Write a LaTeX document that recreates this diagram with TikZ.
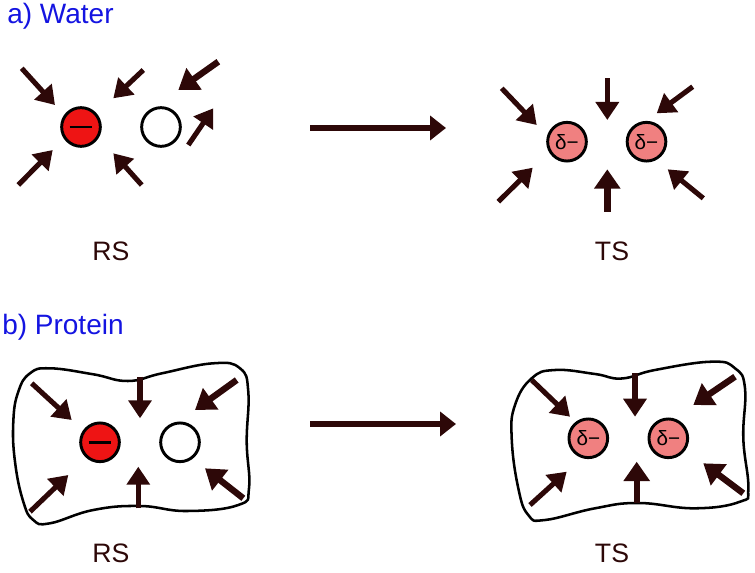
\documentclass[tikz,border=0pt]{standalone}
\usepackage{fontspec}
\setmainfont{Liberation Sans}
\usetikzlibrary{arrows.meta}
\definecolor{arr}{RGB}{45,8,8}
\definecolor{lblblue}{RGB}{20,20,225}
\definecolor{ionred}{RGB}{238,20,20}
\definecolor{pinkion}{RGB}{240,128,128}
\tikzset{
  sarrow/.style={draw=arr, line width=3.8pt, -{Triangle[length=13.5pt,width=17pt]}},
  tarrow/.style={draw=arr, line width=4.8pt, -{Triangle[length=14.5pt,width=19pt]}},
  marrow/.style={draw=arr, line width=3.8pt, -{Triangle[length=12pt,width=18pt]}},
  ion/.style={circle, draw=black, line width=2.2pt, minimum size=29pt, inner sep=0pt},
  negion/.style={ion, fill=ionred},
  emptyion/.style={ion, fill=white},
  deltaion/.style={ion, fill=pinkion, font=\fontsize{15.5pt}{16pt}\selectfont},
  blob/.style={draw=black, line width=1.9pt},
  statelbl/.style={text=arr, font=\fontsize{20pt}{22pt}\selectfont, inner sep=0pt},
  panellbl/.style={text=lblblue, font=\fontsize{21pt}{23pt}\selectfont, inner sep=0pt, anchor=west},
}
\begin{document}
\begin{tikzpicture}[x=0.75pt,y=-0.75pt]
\useasboundingbox (0,0) rectangle (755,573);
% labels
\node[panellbl] (la) at (7,16) {a) Water};
\node[panellbl] (lb) at (2,327) {b) Protein};
\node[statelbl] (rsa) at (111,251) {RS};
\node[statelbl] (tsa) at (612,251) {TS};
\node[statelbl] (rsb) at (111,553) {RS};
\node[statelbl] (tsb) at (612,553) {TS};

% ===== a) water RS
\node[negion] (a1) at (81,127) {};
\draw[black, line width=2.2pt] ([xshift=-8.5pt]a1.center) -- ([xshift=8.5pt]a1.center);
\node[emptyion] (a2) at (161,127) {};
\draw[sarrow] (21.7,68.3) coordinate (p1) -- (55,105) coordinate (q1);
\draw[sarrow] (143.3,70) coordinate (p2) -- (113.3,98.3) coordinate (q2);
\draw[tarrow] (218.3,61.7) coordinate (p3) -- (178.3,90) coordinate (q3);
\draw[sarrow] (188.3,145) coordinate (p4) -- (213.3,108.3) coordinate (q4);
\draw[sarrow] (18.3,185) coordinate (p5) -- (52.7,150) coordinate (q5);
\draw[sarrow] (141.7,185) coordinate (p6) -- (113.3,153.3) coordinate (q6);

% main arrow a
\coordinate (ma1) at (310,128);
\coordinate (ma2) at (446,128);
\draw[marrow] (ma1) -- (ma2);

% ===== a) water TS
\node[deltaion] (a3) at (567,141.7) {δ−};
\node[deltaion] (a4) at (646.5,141.7) {δ−};
\draw[sarrow] (501.7,88.3) coordinate (p7) -- (536.7,125) coordinate (q7);
\draw[sarrow] (607.3,78.3) coordinate (p8) -- (607.3,120) coordinate (q8);
\draw[sarrow] (692.7,86.7) coordinate (p9) -- (656.7,113.3) coordinate (q9);
\draw[sarrow] (498.3,201.7) coordinate (p10) -- (532.7,167.7) coordinate (q10);
\draw[tarrow] (607.3,211.7) coordinate (p11) -- (607.3,169.3) coordinate (q11);
\draw[sarrow] (703.3,198.3) coordinate (p12) -- (667.7,169.3) coordinate (q12);

% ===== b) protein RS
\draw[blob] plot[smooth cycle, tension=0.75] coordinates {
 (13.3,421.7) (18.3,391.7) (30,373.3) (50,368.3) (93.3,374.3) (128,381)
 (162,373.3) (213.3,363.3) (240,368.3) (248.3,391.7) (246.7,441.7)
 (249,488.3) (238.3,505) (186.7,511) (140,506) (93.3,510) (50,523.3)
 (33.3,520) (23.3,501.7) (15,461.7)};
\node[negion] (b1) at (100,442.3) {};
\draw[black, line width=2.2pt] ([xshift=-8.5pt]b1.center) -- ([xshift=8.5pt]b1.center);
\node[emptyion] (b2) at (180,442.3) {};
\draw[sarrow] (31.7,383.3) coordinate (r1) -- (71.7,420) coordinate (s1);
\draw[sarrow] (140,376.7) coordinate (r2) -- (140,418.3) coordinate (s2);
\draw[tarrow] (236.7,380) coordinate (r3) -- (195,410) coordinate (s3);
\draw[sarrow] (30,511.7) coordinate (r4) -- (68.3,475) coordinate (s4);
\draw[sarrow] (138.3,508.3) coordinate (r5) -- (138.3,466.7) coordinate (s5);
\draw[tarrow] (243.3,498.3) coordinate (r6) -- (205,468.3) coordinate (s6);

% main arrow b
\coordinate (mb1) at (310,424);
\coordinate (mb2) at (456,424);
\draw[marrow] (mb1) -- (mb2);

% ===== b) protein TS
\draw[blob] plot[smooth cycle, tension=0.75] coordinates {
 (511.7,438.3) (515,405) (531.7,378.3) (555,370) (595,374) (621.7,378.5)
 (655,370) (711.7,361.7) (735,368.3) (745,388.3) (743.3,438.3)
 (748.3,488.3) (740,501.7) (695,508.3) (638.3,503) (595,508.3)
 (545,520) (528.3,515) (518.3,488.3)};
\node[deltaion] (b3) at (588.3,438.3) {δ−};
\node[deltaion] (b4) at (668.3,438.3) {δ−};
\draw[sarrow] (531.7,380) coordinate (r7) -- (570,416.7) coordinate (s7);
\draw[sarrow] (635,373.3) coordinate (r8) -- (635,416.7) coordinate (s8);
\draw[tarrow] (735,376.7) coordinate (r9) -- (693.3,405) coordinate (s9);
\draw[sarrow] (530,505) coordinate (r10) -- (566.7,471.7) coordinate (s10);
\draw[tarrow] (636.7,503.3) coordinate (r11) -- (636.7,461.7) coordinate (s11);
\draw[tarrow] (743.3,493.3) coordinate (r12) -- (703.3,463.3) coordinate (s12);
\end{tikzpicture}
\end{document}
